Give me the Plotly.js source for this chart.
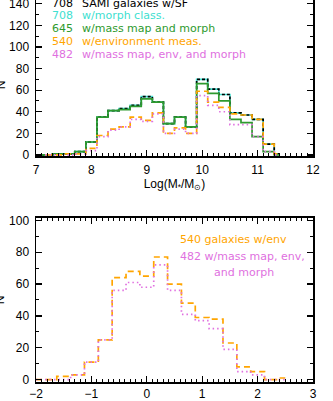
<!DOCTYPE html>
<html><head><meta charset="utf-8">
<script src="https://cdn.plot.ly/plotly-3.0.1.min.js"></script>
<style>
html,body{margin:0;padding:0;overflow:hidden;background:#fff;width:333px;height:401px}
#chart{position:absolute;left:-10px;top:-12px;width:343px;height:430px}
</style>
</head><body><div id="chart"></div>
<script>
// ---- data: stellar mass histogram (bin centres, width 0.2 dex) ----
const massBins = [7.0,7.2,7.4,7.6,7.8,8.0,8.2,8.4,8.6,8.8,9.0,9.2,9.4,9.6,9.8,10.0,10.2,10.4,10.6,10.8,11.0,11.2,11.4];
const nAllSF        = [0,0,1,1,3,12,35,41,43,46,54,49,29,35,26,70,61,56,39,37,33,10,1];
const nMorph        = [0,0,1,1,3,12,35,41,43,46,54,49,29,35,26,70,61,56,39,37,33,10,1];
const nMassMorph    = [0,0,1,1,3,12,35,41,42,45,52,49,29,35,26,66,57,50,33,30,17,3,0];
const nEnv          = [0,0,0,1,1,6,18,24,26,35,32,39,20,25,20,59,49,44,38,37,33,10,1];
const nMassEnvMorph = [0,0,0,0,1,4,17,23,26,33,31,38,20,24,20,55,46,40,28,28,17,3,0];

// ---- data: environment histogram (bin centres, width 0.25 dex) ----
const envBins        = [-2.0,-1.75,-1.5,-1.25,-1.0,-0.75,-0.5,-0.25,0,0.25,0.5,0.75,1.0,1.25,1.5,1.75,2.0,2.25,2.5];
const envAll         = [0,0,2,3,11,25,64,68,65,77,60,48,39,38,23,8,5,0,1];
const envMassMorph   = [0,0,0,3,11,25,56,61,58,72,56,41,37,32,19,5,3,0,0];

// ---- tick labels ----
const massTicks = [7,8,9,10,11,12];
const envTicks  = [-2,-1,0,1,2,3];
const topYTicks = [0,20,40,60,80,100,120,140];
const botYTicks = [0,20,40,60,80,100];

// ---- legend texts ----
const topLegendCounts = ['708','708','645','540','482'];
const topLegendLabels = ['SAMI galaxies w/SF','w/morph class.','w/mass map and morph','w/environment meas.','w/mass map, env, and morph'];
const botLegendLines  = ['540 galaxies w/env','482 w/mass map, env,','and morph'];

// ---- colours ----
const cBlack='#000000', cCyan='#40E0D0', cGreen='#2E9A2E', cOrange='#FFA500', cPink='#E070E0';

// ---- geometry (pixels inside the plot div) ----
const W=343, H=430, mL=45.7, mR=19.7, mT=4.5;
const botAxisPx = 393.7;
const mB = H-botAxisPx;
const plotH = H-mT-mB;
const topPanelBottomPx = 167.6, botPanelTopPx = 229.45;
const topDomain = [1-(topPanelBottomPx-mT)/plotH, 1];
const botDomain = [0, (botAxisPx-botPanelTopPx)/plotH];

const F = 'Liberation Sans, Arial, Helvetica, sans-serif';
const LF = 'DejaVu Sans, Verdana, sans-serif';

function step(x,y,color,width,dash,xa,ya,name){
  return {x:x,y:y,type:'scatter',mode:'lines',name:name,
    line:{shape:'hvh',color:color,width:width,dash:dash},
    xaxis:xa,yaxis:ya,hoverinfo:'skip',showlegend:false};
}

const traces = [
  step(massBins,nAllSF,cCyan,1.7,'solid','x','y','708 SAMI galaxies w/SF'),
  step(massBins,nMorph,cBlack,1.7,'3px,2px','x','y','708 w/morph class.'),
  step(massBins,nMassMorph,cGreen,1.7,'solid','x','y','645 w/mass map and morph'),
  step(massBins,nEnv,cOrange,1.7,'6px,4px','x','y','540 w/environment meas.'),
  step(massBins,nMassEnvMorph,cPink,1.7,'1.5px,3px','x','y','482 w/mass map, env, and morph'),
  step(envBins,envAll,cOrange,1.7,'6px,4px','x2','y2','540 galaxies w/env'),
  step(envBins,envMassMorph,cPink,1.7,'1.5px,3px','x2','y2','482 w/mass map, env, and morph')
];

function axisBase(){
  return {showline:true,linecolor:'#000',linewidth:1.5,mirror:'allticks',
    ticks:'inside',ticklen:6,tickwidth:1.2,tickcolor:'#000',
    showgrid:false,zeroline:false,
    tickfont:{family:F,size:12,color:'#000'},
    ticklabelstandoff:3};
}

const xa = Object.assign(axisBase(),{domain:[0,1],anchor:'y',range:[7,12],tickvals:massTicks,ticklabelstandoff:2,
  minor:{dtick:0.1,tick0:7,ticks:'inside',ticklen:3,tickwidth:1,tickcolor:'#000',showgrid:false},
  title:{text:'Log(M<sub>*</sub>/M<sub>⊙</sub>)',font:{family:F,size:12,color:'#000'},standoff:2}});
const ya = Object.assign(axisBase(),{domain:topDomain,anchor:'x',range:[-1,150],tickvals:topYTicks,
  minor:{dtick:10,tick0:0,ticks:'inside',ticklen:3,tickwidth:1,tickcolor:'#000',showgrid:false}});
const xb = Object.assign(axisBase(),{domain:[0,1],anchor:'y2',range:[-2,3],tickvals:envTicks,ticklabelstandoff:0,
  minor:{dtick:0.1,tick0:-2,ticks:'inside',ticklen:3,tickwidth:1,tickcolor:'#000',showgrid:false},
  title:{text:'log(Σ<sub>5</sub>/Mpc<sup>-2</sup>)',font:{family:F,size:12,color:'#000'},standoff:12}});
const yb = Object.assign(axisBase(),{domain:botDomain,anchor:'x2',range:[-1.5,101.6],tickvals:botYTicks,
  minor:{dtick:10,tick0:0,ticks:'inside',ticklen:3,tickwidth:1,tickcolor:'#000',showgrid:false}});

const annotations = [];
const topRowsY = [140.6,129.0,117.2,105.0,93.2];
const topColors = [cBlack,cCyan,cGreen,cOrange,cPink];
for(let i=0;i<topLegendLabels.length;i++){
  annotations.push({xref:'x',yref:'y',x:7.26,y:topRowsY[i],xanchor:'left',yanchor:'middle',showarrow:false,
    text:topLegendCounts[i],font:{family:LF,size:11,color:topColors[i]}});
  annotations.push({xref:'x',yref:'y',x:7.80,y:topRowsY[i],xanchor:'left',yanchor:'middle',showarrow:false,
    text:topLegendLabels[i],font:{family:LF,size:11,color:topColors[i]}});
}
const botX = [0.57,0.57,1.17], botY=[88.1,77.6,67.5], botC=[cOrange,cPink,cPink];
for(let i=0;i<botLegendLines.length;i++){
  annotations.push({xref:'x2',yref:'y2',x:botX[i],y:botY[i],xanchor:'left',yanchor:'middle',showarrow:false,
    text:botLegendLines[i],font:{family:LF,size:11,color:botC[i]}});
}
// y-axis titles (rotated), placed to the left of the tick labels (partly outside the visible window)
const titleXPx = 10;
annotations.push({xref:'paper',yref:'y',x:-(mL-titleXPx)/(W-mL-mR),y:65,
  text:'N',textangle:-90,showarrow:false,xanchor:'center',yanchor:'middle',font:{family:F,size:12,color:'#000'}});
annotations.push({xref:'paper',yref:'paper',x:-(mL-titleXPx)/(W-mL-mR),y:(botDomain[0]+botDomain[1])/2,
  text:'N',textangle:-90,showarrow:false,xanchor:'center',yanchor:'middle',font:{family:F,size:12,color:'#000'}});

const layout = {width:W,height:H,margin:{l:mL,r:mR,t:mT,b:mB,pad:0},
  paper_bgcolor:'#fff',plot_bgcolor:'#fff',showlegend:false,
  xaxis:xa,yaxis:ya,xaxis2:xb,yaxis2:yb,annotations:annotations};

Plotly.newPlot('chart',traces,layout,{staticPlot:true,displayModeBar:false});
</script>
</body></html>
